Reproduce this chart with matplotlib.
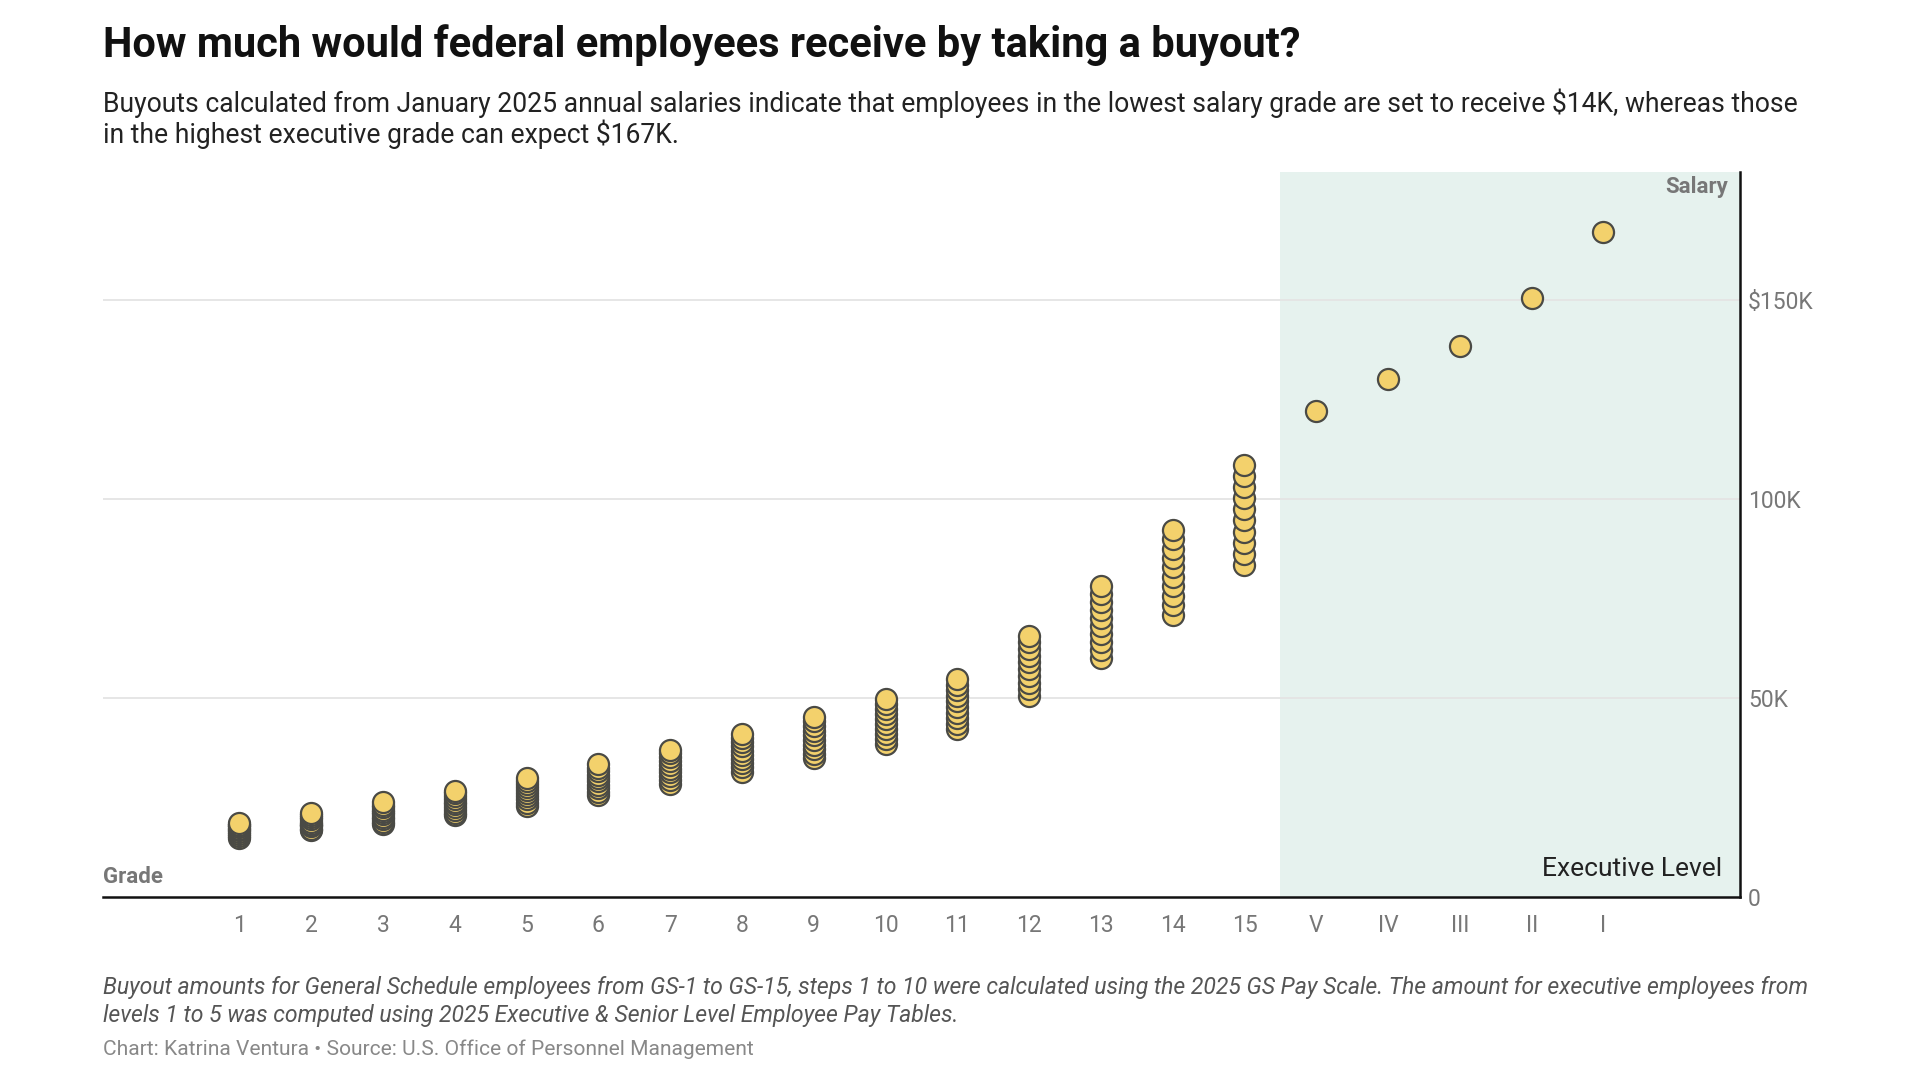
import matplotlib
matplotlib.use('Agg')
import matplotlib.pyplot as plt

# buyout amounts in $K (8 months of 2025 salary), steps 1..10
gs_grades = ['1', '2', '3', '4', '5', '6', '7', '8', '9', '10', '11', '12', '13', '14', '15']
gs_buyout = [
    [14.91, 15.41, 15.90, 16.39, 16.89, 17.18, 17.67, 18.16, 18.18, 18.64],
    [16.76, 17.16, 17.72, 18.18, 18.38, 18.93, 19.47, 20.01, 20.55, 21.09],
    [18.29, 18.90, 19.51, 20.12, 20.73, 21.33, 21.94, 22.55, 23.16, 23.77],
    [20.53, 21.21, 21.90, 22.58, 23.27, 23.95, 24.63, 25.32, 26.00, 26.69],
    [22.97, 23.73, 24.50, 25.27, 26.03, 26.80, 27.56, 28.33, 29.09, 29.86],
    [25.60, 26.46, 27.31, 28.16, 29.02, 29.87, 30.72, 31.58, 32.43, 33.28],
    [28.45, 29.40, 30.35, 31.30, 32.25, 33.20, 34.14, 35.09, 36.04, 36.99],
    [31.51, 32.56, 33.61, 34.66, 35.71, 36.76, 37.81, 38.86, 39.92, 40.97],
    [34.80, 35.96, 37.12, 38.28, 39.44, 40.60, 41.76, 42.92, 44.08, 45.24],
    [38.33, 39.60, 40.88, 42.16, 43.44, 44.71, 45.99, 47.27, 48.54, 49.82],
    [42.11, 43.51, 44.92, 46.32, 47.72, 49.13, 50.53, 51.93, 53.34, 54.74],
    [50.47, 52.15, 53.84, 55.52, 57.20, 58.88, 60.57, 62.25, 63.93, 65.61],
    [60.02, 62.02, 64.02, 66.02, 68.02, 70.02, 72.02, 74.02, 76.02, 78.02],
    [70.92, 73.29, 75.65, 78.01, 80.38, 82.74, 85.11, 87.47, 89.83, 92.20],
    [83.42, 86.20, 88.98, 91.76, 94.54, 97.33, 100.11, 102.89, 105.67, 108.45],
]
exec_levels = ['V', 'IV', 'III', 'II', 'I']
exec_buyout = [122.07, 130.13, 138.33, 150.47, 167.07]

y_ticks = [0, 50, 100, 150]
y_labels = ['0', '50K', '100K', '$150K']

FILL = '#f3d16c'
EDGE = '#4a4a45'

plt.rcParams['font.family'] = ['Roboto', 'DejaVu Sans']

fig = plt.figure(figsize=(19.2, 10.8), dpi=100)
ax = fig.add_axes([0.0536, 0.1694, 0.8526, 0.6713])

n_gs = len(gs_grades)
ax.axvspan(n_gs - 0.5, 30, color='#e6f2ee', zorder=0, lw=0)

for i, steps in enumerate(gs_buyout):
    for v in steps:
        ax.scatter(i, v, s=230, color=FILL, edgecolor=EDGE, linewidth=1.6, zorder=3)
for j, v in enumerate(exec_buyout):
    ax.scatter(n_gs + j, v, s=230, color=FILL, edgecolor=EDGE, linewidth=1.6, zorder=3)

ax.set_xlim(-1.9, 20.9)
ax.set_ylim(0, 182)

for t in y_ticks[1:]:
    ax.axhline(t, color='#e4e4e4', lw=1.3, zorder=1)

ax.set_xticks(range(n_gs + len(exec_levels)))
ax.set_xticklabels(gs_grades + exec_levels)
ax.yaxis.tick_right()
ax.set_yticks(y_ticks)
ax.set_yticklabels(y_labels)
ax.tick_params(axis='both', length=0, labelsize=16.5, labelcolor='#777777')
ax.tick_params(axis='x', pad=12)
ax.tick_params(axis='y', pad=6)

for s in ['top', 'left']:
    ax.spines[s].set_visible(False)
ax.spines['bottom'].set_color('#111111')
ax.spines['bottom'].set_linewidth(1.8)
ax.spines['right'].set_color('#111111')
ax.spines['right'].set_linewidth(1.8)

ax.text(0.993, 0.995, 'Salary', transform=ax.transAxes, ha='right', va='top',
        fontsize=16, fontweight='bold', color='#777777')
ax.text(0.0, 0.012, 'Grade', transform=ax.transAxes, ha='left', va='bottom',
        fontsize=16, fontweight='bold', color='#777777')
ax.text(0.989, 0.022, 'Executive Level', transform=ax.transAxes, ha='right', va='bottom',
        fontsize=19, color='#222222')

fig.text(0.0536, 0.958, 'How much would federal employees receive by taking a buyout?',
         ha='left', va='center', fontsize=30, fontweight='bold', color='#111111')
fig.text(0.0536, 0.890,
         'Buyouts calculated from January 2025 annual salaries indicate that employees in the lowest salary grade are set to receive $14K, whereas those\n'
         'in the highest executive grade can expect $167K.',
         ha='left', va='center', fontsize=19.1, color='#222222', linespacing=1.1)
fig.text(0.0536, 0.0725,
         'Buyout amounts for General Schedule employees from GS-1 to GS-15, steps 1 to 10 were calculated using the 2025 GS Pay Scale. The amount for executive employees from\n'
         'levels 1 to 5 was computed using 2025 Executive & Senior Level Employee Pay Tables.',
         ha='left', va='center', fontsize=16.6, style='italic', color='#555555', linespacing=1.3)
fig.text(0.0536, 0.0285, 'Chart: Katrina Ventura \u2022 Source: U.S. Office of Personnel Management',
         ha='left', va='center', fontsize=15.1, color='#888888')

fig.savefig('out.png', dpi=100, facecolor='white')
